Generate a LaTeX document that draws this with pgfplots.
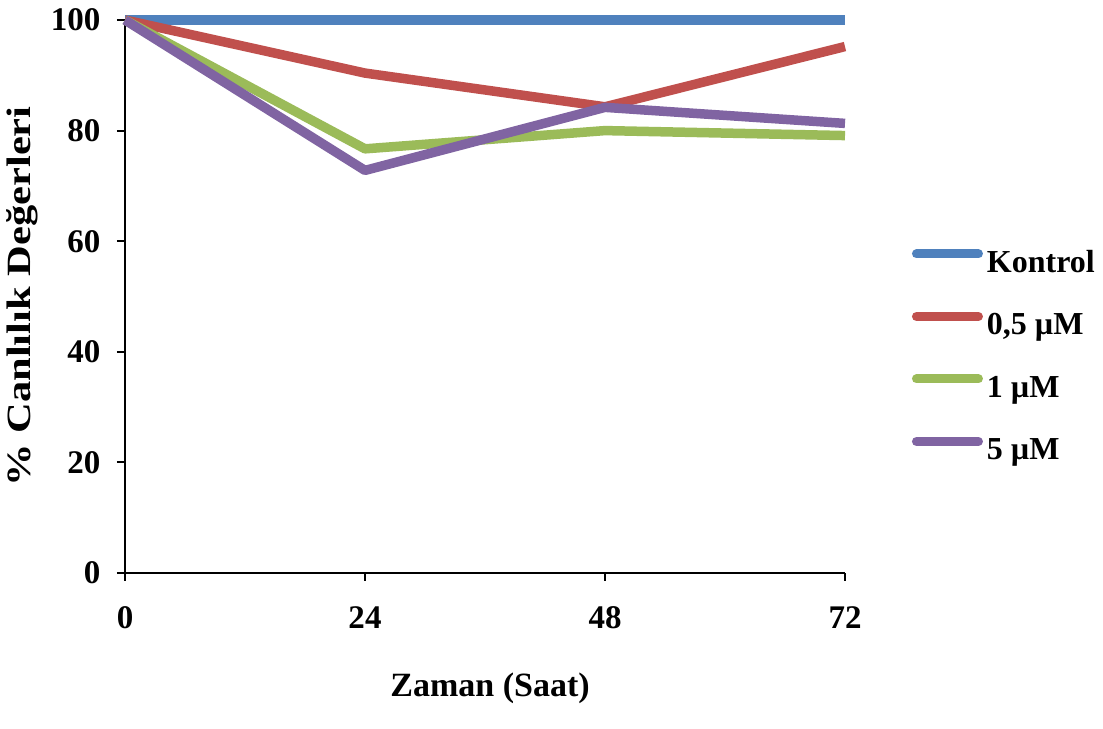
\documentclass[border=0pt]{standalone}
\usepackage{pgfplots}
\pgfplotsset{compat=1.18}
\usepackage{fontspec}
\setmainfont{Liberation Serif}
\usepackage{graphicx}
\definecolor{cBlue}{HTML}{4F81BD}
\definecolor{cRed}{HTML}{C0504D}
\definecolor{cGreen}{HTML}{9BBB59}
\definecolor{cPurple}{HTML}{8064A2}
\begin{document}
\begin{tikzpicture}
\path[use as bounding box] (0bp,0bp) rectangle (1103bp,729bp);
\begin{axis}[
  at={(125bp,156bp)}, anchor=south west,
  scale only axis, width=720bp, height=553bp,
  xmin=0, xmax=72, ymin=0, ymax=100,
  axis x line=bottom, axis y line=left,
  axis line style={-, line width=2bp, black},
  tick align=outside, major tick length=8bp,
  tick style={line width=2bp, black},
  xtick={0,24,48,72}, ytick={0,20,40,60,80,100},
  clip=false,
  font=\fontsize{34bp}{40bp}\selectfont\bfseries,
  /pgf/number format/assume math mode=true,
  ticklabel style={font=\fontsize{33bp}{39bp}\selectfont\bfseries},
  xticklabel style={yshift=-22bp},
  yticklabel style={xshift=-13bp},
  xlabel={Zaman (Saat)},
  ylabel={\scalebox{1.25}[1]{\% Canlılık Değerleri}},
  xlabel style={at={(axis description cs:0.507,-0.208)}, anchor=center},
  ylabel style={at={(axis description cs:-0.143,0.5)}, anchor=center},
  legend style={at={(1.093,0.585)}, anchor=north west, draw=none, fill=none,
    inner sep=0pt, outer sep=0pt, row sep=32.5bp, column sep=4bp,
    nodes={inner sep=0pt, text height=22bp, text depth=7bp},
    font=\fontsize{32bp}{38bp}\selectfont\bfseries},
  legend cell align=left,
  legend image code/.code={\draw[line cap=round, line width=9bp] (0bp,11bp) -- (62bp,11bp);},
  every axis plot/.append style={line width=9.5bp, line join=round},
]
\addplot[cBlue] coordinates {(0,100) (24,100) (48,100) (72,100)};
\addlegendentry{Kontrol}
\addplot[cRed] coordinates {(0,100) (24,90.4) (48,84.3) (72,95.2)};
\addlegendentry{0,5 µM}
\addplot[cGreen] coordinates {(0,100) (24,76.7) (48,80.0) (72,79.1)};
\addlegendentry{1 µM}
\addplot[cPurple] coordinates {(0,100) (24,72.8) (48,84.2) (72,81.3)};
\addlegendentry{5 µM}
\end{axis}
\end{tikzpicture}
\end{document}
